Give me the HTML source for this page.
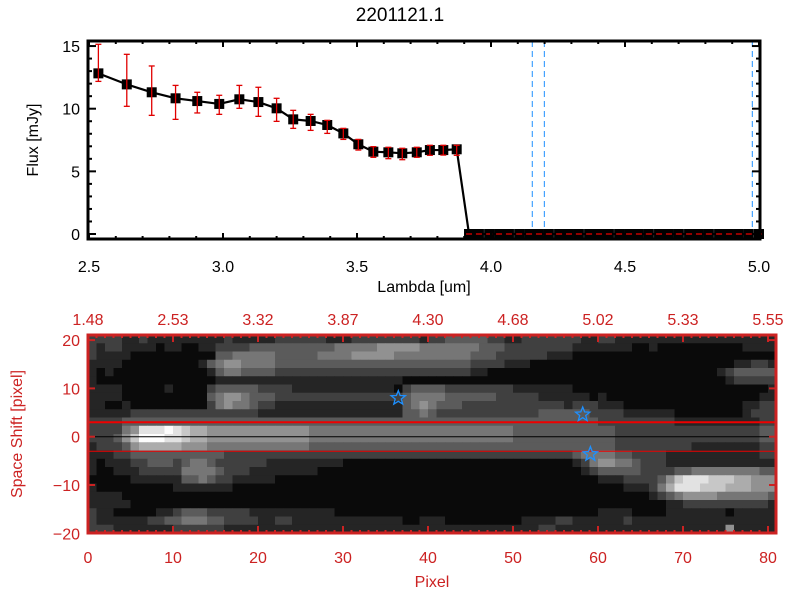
<!DOCTYPE html>
<html><head><meta charset="utf-8"><style>
html,body{margin:0;padding:0;background:#fff;}
svg{display:block;font-family:"Liberation Sans",sans-serif;}
</style></head><body>
<svg id="c" width="800" height="600" viewBox="0 0 800 600" xmlns="http://www.w3.org/2000/svg">
<rect width="800" height="600" fill="#fff"/>
<text x="400" y="21" font-size="19" text-anchor="middle" fill="#000">2201121.1</text>
<g id="top"></g>
<g id="bot"></g>
</svg>
<script>
// ---- top panel data ----
const lambdas = [2.535,2.641,2.734,2.823,2.904,2.986,3.061,3.132,3.200,3.262,3.327,3.389,3.449,3.505,3.561,3.617,3.669,3.723,3.772,3.822,3.872];
const flux    = [12.82,11.94,11.31,10.83,10.61,10.38,10.75,10.53,10.03,9.15,9.02,8.70,8.03,7.16,6.57,6.52,6.44,6.52,6.70,6.70,6.76];
const fluxHi  = [15.14,14.34,13.41,11.86,11.31,11.07,11.86,11.71,10.83,9.87,9.55,9.07,8.43,7.55,6.97,6.92,6.84,6.92,7.08,7.08,7.08];
const fluxLo  = [12.18,10.19,9.47,9.15,9.66,9.55,10.03,9.39,8.99,8.43,8.27,8.03,7.55,6.70,6.12,6.01,5.93,6.12,6.28,6.30,6.28];
const zeroLambdas = [3.918,3.955,3.993,4.030,4.067,4.105,4.142,4.179,4.216,4.254,4.291,4.328,4.366,4.403,4.440,4.478,4.515,4.552,4.589,4.627,4.664,4.701,4.739,4.776,4.813,4.851,4.888,4.925,4.962,5.000];
const zeroFlux = [0,0,0,0,0,0,0,0,0,0,0,0,0,0,0,0,0,0,0,0,0,0,0,0,0,0,0,0,0,0];
const blueLines = [4.154,4.199,4.975];
const xTickLabels = ["2.5","3.0","3.5","4.0","4.5","5.0"];
const yTickLabels = ["0","5","10","15"];
// ---- bottom panel data ----
const pixelTickLabels = ["0","10","20","30","40","50","60","70","80"];
const wavelengthTickLabels = ["1.48","2.53","3.32","3.87","4.30","4.68","5.02","5.33","5.55"];
const shiftTickLabels = ["-20","-10","0","10","20"];
const starPixels = [36.5,58.2,59.1];
const starShifts = [8.0,4.6,-3.6];
const heatRows = [
"2222112111 1111112111 1122222211 1222222221 2233333221 1222222211 2211111111 1111111111 1",
"2122111101 1001122223 3333333334 4444555554 4444443332 2222222111 1111001000 0000000111 1",
"2111100000 0000033444 4433333444 4555554444 4444433322 2222111000 0000000000 0000000000 0",
"1111000000 0001345544 4433333333 3333333333 3333322221 1100000000 0000000000 0000001122 1",
"1010000000 0000134433 3322222222 2222222222 2222211000 0000000000 0000000000 0000123333 3",
"1000000000 0000011111 1111111111 1111111000 0000000000 0000000000 0000000000 0000012222 2",
"1111000001 0000233333 2222111111 1111110233 3322222222 1111111000 0000000000 0000000000 1",
"1111000000 0000345543 3322222222 2222222344 4433333322 2221111110 1000000000 0000000001 1",
"1100100000 0000245443 2211111111 1111111345 4333222222 2222221222 1110000000 0000000112 2",
"1111122222 2222222222 1111111111 1111111334 3222222222 2223333332 2221111110 0000000122 2",
"2222333333 3333333333 3333333333 3333333333 3333333333 3333333333 2222222221 1111111112 2",
"2222458889 8766555555 5555554444 4444444444 4444444444 3333333333 3322222222 2222222223 3",
"2223579998 8766555555 5555554444 4444444444 4444444444 3333333333 3322222222 2222222223 3",
"1222356666 6555444444 4444443333 3333333333 3333333333 3333333333 3322222222 2111111112 2",
"1112233333 3333332222 2222222222 2222222222 2222222222 2222222344 4433222211 1111111112 2",
"1011122333 2344322222 2111111111 0000000000 0000000000 0000000124 5544322211 1111111111 1",
"1001112222 2444432221 1111111000 0000000000 0000000000 0000000012 3333322223 3444444443 3",
"0000011111 1334322111 1100000000 0000000000 0000000000 0000000000 1112222357 8887776655 5",
"1000000000 1111111000 0000000000 0000000000 0000000000 0000000000 0001112468 8877766655 5",
"1111000000 0000000000 0000000000 0000000000 0000000000 0000000000 0000001234 5555444444 3",
"1111100000 0000000000 0000000000 0000000000 0000000000 0000000000 0000000011 2222222222 1",
"2110000011 2333222221 1111111110 0000000000 0000000000 0000000000 1111000011 1111101111 1",
"2111111223 3444332222 1122111111 1111111001 1100000000 0111122111 1112111111 1111111111 1",
"2221111111 2222221111 1111111111 1111111111 1111111111 1112211111 1111111111 1111151111 1"
];

const NS = "http://www.w3.org/2000/svg";
function mk(parent, tag, attrs, txt){
  const e = document.createElementNS(NS, tag);
  for (const k in attrs) e.setAttribute(k, attrs[k]);
  if (txt !== undefined) e.textContent = txt;
  parent.appendChild(e);
  return e;
}
// ===== TOP PANEL =====
const T = document.getElementById('top');
const xT = v => 89 + (v - 2.5) * 268;
const yT = v => 234 - v * 12.53;
const TL = 88, TR = 760, TT = 41, TB = 239;

blueLines.forEach(v => {
  const l = mk(T, 'line', {x1:xT(v), x2:xT(v), y1:TT, y2:TB, stroke:'#1e90ff', 'stroke-width':1, 'stroke-dasharray':'6,4'});
  
  
});
{
  const l = mk(T, 'line', {x1:xT(zeroLambdas[0]) - 3, x2:TR, y1:yT(0), y2:yT(0), stroke:'#e00000', 'stroke-width':1, 'stroke-dasharray':'5,4'});
  
  
}
const allL = lambdas.concat(zeroLambdas), allF = flux.concat(zeroFlux);
{
  const pl = mk(T, 'polyline', {points: allL.map((v,i)=>xT(v)+','+yT(allF[i])).join(' '), fill:'none', stroke:'#000', 'stroke-width':2.2});
  
  
}
allL.forEach((v,i) => {
  const r = mk(T, 'rect', {x:xT(v)-5, y:yT(allF[i])-5, width:10, height:10, fill:'#000'});
  
  
});
lambdas.forEach((v,i) => {
  const g = mk(T, 'g', {stroke:'#e00000', 'stroke-width':1.3});
  
  
  const x = xT(v), y1 = yT(fluxHi[i]), y2 = yT(fluxLo[i]);
  mk(g, 'line', {x1:x, x2:x, y1:y1, y2:y2});
  mk(g, 'line', {x1:x-3, x2:x+3, y1:y1, y2:y1});
  mk(g, 'line', {x1:x-3, x2:x+3, y1:y2, y2:y2});
});
zeroLambdas.forEach(v => {
  const l = mk(T, 'line', {x1:xT(v)-3, x2:xT(v)+3, y1:yT(0), y2:yT(0), stroke:'#e00000', 'stroke-width':1.3});
  
  
});
{
  const f = mk(T, 'rect', {x:TL, y:TT, width:TR-TL, height:TB-TT, fill:'none', stroke:'#000', 'stroke-width':3});
  
  
}
for (let k = 0; k <= 25; k++) {
  const v = 2.5 + k * 0.1, x = xT(v), len = (k % 5 === 0) ? 6 : 3;
  mk(T, 'line', {x1:x, x2:x, y1:TB, y2:TB-len, stroke:'#000', 'stroke-width':2});
  mk(T, 'line', {x1:x, x2:x, y1:TT, y2:TT+len, stroke:'#000', 'stroke-width':2});
}
for (let k = 0; k <= 15; k++) {
  const y = yT(k), len = (k % 5 === 0) ? 8 : 4;
  mk(T, 'line', {x1:TL, x2:TL+len, y1:y, y2:y, stroke:'#000', 'stroke-width':2});
  mk(T, 'line', {x1:TR, x2:TR-len, y1:y, y2:y, stroke:'#000', 'stroke-width':2});
}
xTickLabels.forEach((s,i) => {
  const t = mk(T, 'text', {x:xT(2.5 + i*0.5), y:272, 'font-size':16, 'text-anchor':'middle', fill:'#000'}, s);
  
  
});
yTickLabels.forEach((s,i) => {
  const t = mk(T, 'text', {x:80, y:yT(i*5)+6, 'font-size':16, 'text-anchor':'end', fill:'#000'}, s);
  
  
});
{
  const t = mk(T, 'text', {x:424, y:292, 'font-size':16, 'text-anchor':'middle', fill:'#000'}, 'Lambda [um]');
  
  
  const t2 = mk(T, 'text', {x:0, y:0, 'font-size':16, 'text-anchor':'middle', fill:'#000', transform:'translate(38,140) rotate(-90)'}, 'Flux [mJy]');
  
  
}

// ===== BOTTOM PANEL =====
const B = document.getElementById('bot');
const RED = '#cc2222';
const xB = p => 88 + p * 8.5;
const yB = v => 436.7 - v * 4.83;
const BL = 88, BR = 776, BT = 335, BB = 533;
const rowH = (BB - BT) / heatRows.length;
const hm = mk(B, 'g', {});


mk(hm, 'rect', {x:BL, y:BT, width:BR-BL, height:BB-BT, fill:'#111'});
heatRows.forEach((rowStr, r) => {
  const row = rowStr.replace(/ /g, '');
  for (let c = 0; c < 81; c++) {
    const d = parseInt(row[c] || '1', 10);
    const g = Math.min(255, 10 + d * 27);
    const cell = mk(hm, 'rect', {x:xB(c), y:BT + r*rowH, width:Math.min(8.8, BR - xB(c)), height:rowH+0.4, fill:`rgb(${g},${g},${g})`});
    
    
  }
});
{
  const l0 = mk(B, 'line', {x1:BL, x2:BR, y1:yB(0), y2:yB(0), stroke:'#000', 'stroke-width':1});
  
  
  const l1 = mk(B, 'line', {x1:BL, x2:BR, y1:yB(3), y2:yB(3), stroke:'#ee0000', 'stroke-width':2});
  
  
  const l2 = mk(B, 'line', {x1:BL, x2:BR, y1:yB(-3), y2:yB(-3), stroke:'#ee0000', 'stroke-width':1});
  
  
}
function starPts(cx, cy, R, r){
  const p = [];
  for (let i = 0; i < 10; i++) {
    const a = -Math.PI/2 + i*Math.PI/5, rr = i%2 ? r : R;
    p.push((cx + rr*Math.cos(a)).toFixed(1) + ',' + (cy + rr*Math.sin(a)).toFixed(1));
  }
  return p.join(' ');
}
starPixels.forEach((p,i) => {
  const s = mk(B, 'polygon', {points:starPts(xB(p), yB(starShifts[i]), 7.5, 3.2), fill:'none', stroke:'#1e90ff', 'stroke-width':1.3});
  
  
});
{
  const f = mk(B, 'rect', {x:BL, y:BT, width:BR-BL, height:BB-BT, fill:'none', stroke:RED, 'stroke-width':3});
  
  
}
for (let k = 0; k <= 81; k++) {
  const x = xB(k); if (x > BR) break;
  const len = (k % 10 === 0) ? 7 : 3;
  mk(B, 'line', {x1:x, x2:x, y1:BB, y2:BB-len, stroke:RED, 'stroke-width':2});
  mk(B, 'line', {x1:x, x2:x, y1:BT, y2:BT+len, stroke:RED, 'stroke-width':2});
}
for (let k = -20; k <= 20; k += 10) {
  const y = yB(k);
  mk(B, 'line', {x1:BL, x2:BL+7, y1:y, y2:y, stroke:RED, 'stroke-width':2});
  mk(B, 'line', {x1:BR, x2:BR-7, y1:y, y2:y, stroke:RED, 'stroke-width':2});
}
pixelTickLabels.forEach((s,i) => {
  const t = mk(B, 'text', {x:xB(i*10), y:563, 'font-size':16, 'text-anchor':'middle', fill:RED}, s);
  
  
});
wavelengthTickLabels.forEach((s,i) => {
  const t = mk(B, 'text', {x:xB(i*10), y:325, 'font-size':16, 'text-anchor':'middle', fill:RED}, s);
  
  
});
shiftTickLabels.forEach((s,i) => {
  const t = mk(B, 'text', {x:80, y:yB(-20 + i*10)+6, 'font-size':16, 'text-anchor':'end', fill:RED}, s.replace('-', '\u2212'));
  
  
});
{
  const t = mk(B, 'text', {x:432, y:587, 'font-size':16, 'text-anchor':'middle', fill:RED}, 'Pixel');
  
  
  const t2 = mk(B, 'text', {x:0, y:0, 'font-size':16, 'text-anchor':'middle', fill:RED, transform:'translate(22,434) rotate(-90)'}, 'Space Shift [pixel]');
  
  
}
</script>
</body></html>
